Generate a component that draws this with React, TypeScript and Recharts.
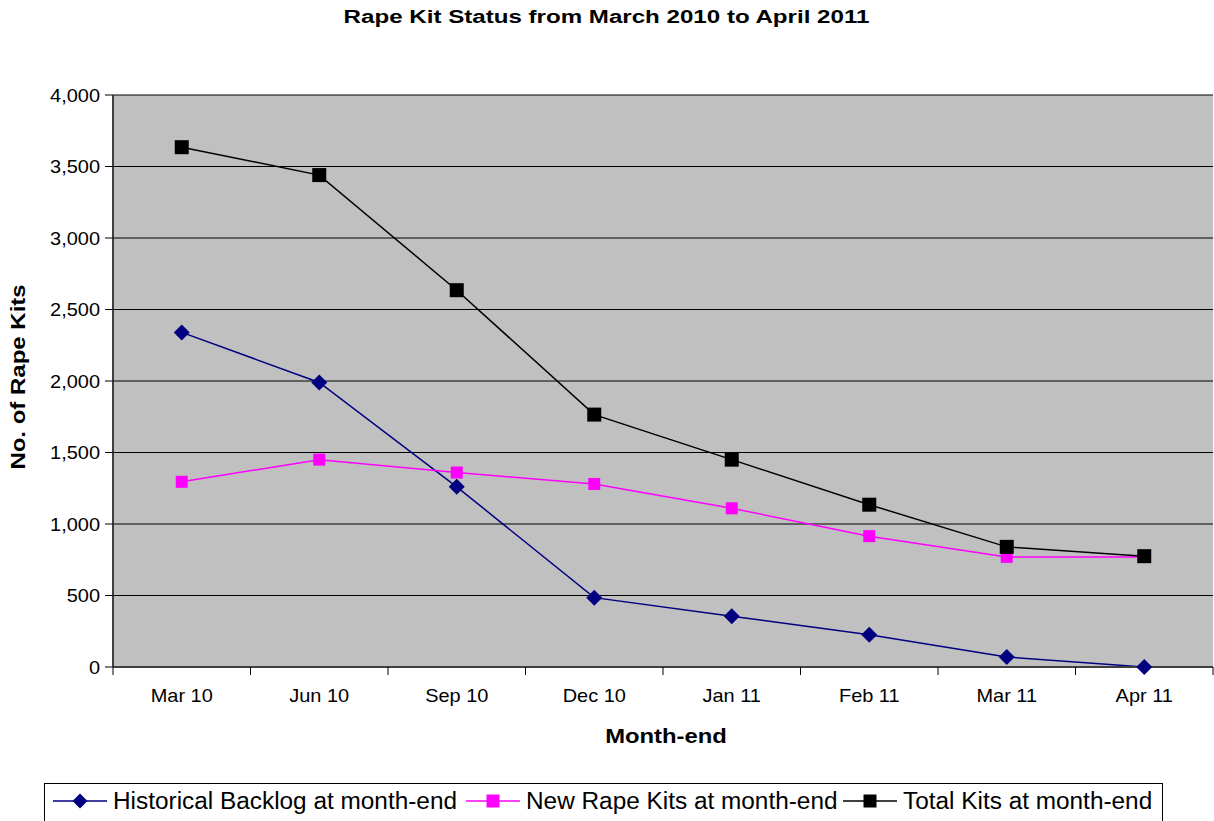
import React from 'react';
import { LineChart, Line, XAxis, YAxis, CartesianGrid } from 'recharts';

const months = ['Mar 10', 'Jun 10', 'Sep 10', 'Dec 10', 'Jan 11', 'Feb 11', 'Mar 11', 'Apr 11'];
const historicalBacklog = [2340, 1990, 1260, 485, 355, 225, 70, 0];
const newRapeKits = [1295, 1450, 1360, 1280, 1110, 915, 770, 770];
const totalKits = [3635, 3440, 2635, 1765, 1450, 1135, 840, 775];
const yTicks = [0, 500, 1000, 1500, 2000, 2500, 3000, 3500, 4000];

const W = 1214;
const H = 821;
const FONT = '"Liberation Sans", Arial, sans-serif';
const HALF_BAND = 68.75;

const data = months.map((m, i) => ({
  month: m,
  historical: historicalBacklog[i],
  newKits: newRapeKits[i],
  total: totalKits[i],
}));

const series = [
  { key: 'historical', name: 'Historical Backlog at month-end', color: '#000080', kind: 'diamond', size: 16, legendX: 53, textX: 113 },
  { key: 'newKits', name: 'New Rape Kits at month-end', color: '#FF00FF', kind: 'square', size: 12, legendX: 466, textX: 526 },
  { key: 'total', name: 'Total Kits at month-end', color: '#000000', kind: 'square', size: 14, legendX: 843, textX: 903 },
];

function Marker({ cx, cy, kind, color, size }: any) {
  const r = size / 2;
  if (kind === 'diamond') {
    return <polygon points={`${cx},${cy - r} ${cx + r},${cy} ${cx},${cy + r} ${cx - r},${cy}`} fill={color} />;
  }
  return <rect x={cx - r} y={cy - r} width={size} height={size} fill={color} />;
}

const YTick = ({ x, y, payload }: any) => (
  <text transform={`translate(${x},${y}) scale(1.05,1)`} textAnchor="end" dy="0.36em" fontSize={19} fontFamily={FONT} fill="#000">
    {Number(payload.value).toLocaleString('en-US')}
  </text>
);

// Excel style: tick marks sit between categories, label in the middle
const XTick = ({ x, y, payload, index }: any) => (
  <g>
    <line x1={x - HALF_BAND} x2={x - HALF_BAND} y1={y} y2={y + 8} stroke="#000" strokeWidth={1} />
    {index === months.length - 1 && (
      <line x1={x + HALF_BAND} x2={x + HALF_BAND} y1={y} y2={y + 8} stroke="#000" strokeWidth={1} />
    )}
    <text transform={`translate(${x},${y}) scale(1.05,1)`} textAnchor="middle" dy={35} fontSize={19} fontFamily={FONT} fill="#000">
      {payload.value}
    </text>
  </g>
);

export default function App() {
  return (
    <div style={{ position: 'absolute', left: 0, top: 0, width: W, height: H, background: '#fff' }}>
      <LineChart width={W} height={H} data={data} margin={{ top: 95, right: 1, left: 0, bottom: 0 }}>
        <CartesianGrid vertical={false} stroke="#000" strokeWidth={1} fill="#C0C0C0" />
        <XAxis
          dataKey="month"
          height={154}
          padding={{ left: HALF_BAND, right: HALF_BAND }}
          tickLine={false}
          tickSize={0}
          tickMargin={0}
          axisLine={{ stroke: '#404040', strokeWidth: 2 }}
          tick={<XTick />}
          interval={0}
        />
        <YAxis
          width={113}
          domain={[0, 4000]}
          ticks={yTicks}
          tickSize={8}
          tickMargin={5}
          axisLine={{ stroke: '#404040', strokeWidth: 2 }}
          tickLine={{ stroke: '#000', strokeWidth: 1 }}
          tick={<YTick />}
        />
        {series.map((s) => (
          <Line
            key={s.key}
            dataKey={s.key}
            name={s.name}
            type="linear"
            stroke={s.color}
            strokeWidth={1.5}
            isAnimationActive={false}
            dot={(p: any) => <Marker key={`${s.key}-${p.index}`} cx={p.cx} cy={p.cy} kind={s.kind} color={s.color} size={s.size} />}
            activeDot={false}
          />
        ))}
      </LineChart>
      <svg width={W} height={H} style={{ position: 'absolute', left: 0, top: 0, pointerEvents: 'none' }}>
        <text transform="translate(606.5,23) scale(1.27,1)" textAnchor="middle" fontSize={19} fontWeight="bold" fontFamily={FONT} fill="#000">
          Rape Kit Status from March 2010 to April 2011
        </text>
        <text transform="translate(666,743) scale(1.19,1)" textAnchor="middle" fontSize={20} fontWeight="bold" fontFamily={FONT} fill="#000">
          Month-end
        </text>
        <text transform="translate(25,377) rotate(-90) scale(1.2,1)" textAnchor="middle" fontSize={20} fontWeight="bold" fontFamily={FONT} fill="#000">
          No. of Rape Kits
        </text>
        <rect x={44.5} y={783.5} width={1118} height={60} fill="#fff" stroke="#000" strokeWidth={1} />
        {series.map((s) => (
          <g key={s.key}>
            <line x1={s.legendX} x2={s.legendX + 54} y1={801} y2={801} stroke={s.color} strokeWidth={1.5} />
            <Marker cx={s.legendX + 27} cy={801} kind={s.kind} color={s.color} size={s.kind === 'diamond' ? 15 : 13} />
            <text transform={`translate(${s.textX},809) scale(1.06,1)`} fontSize={23} fontFamily={FONT} fill="#000">
              {s.name}
            </text>
          </g>
        ))}
      </svg>
    </div>
  );
}
